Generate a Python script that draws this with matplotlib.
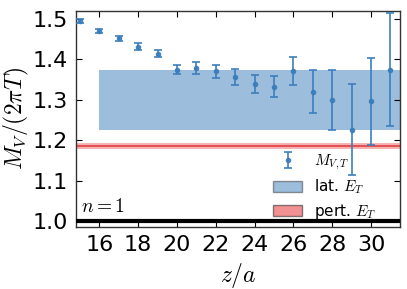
import numpy as np
import matplotlib
matplotlib.use("Agg")
import matplotlib.pyplot as plt
from matplotlib.patches import Patch

plt.rcParams['mathtext.fontset'] = 'cm'
plt.rcParams['font.family'] = ['DejaVu Sans']

z = [15, 16, 17, 18, 19, 20, 21, 22, 23, 24, 25, 26, 27, 28, 29, 30, 31]
m = [1.494, 1.470, 1.452, 1.432, 1.414, 1.375, 1.379, 1.371, 1.356, 1.340,
     1.332, 1.371, 1.320, 1.300, 1.226, 1.296, 1.375]
err = [0.005, 0.005, 0.007, 0.009, 0.009, 0.012, 0.014, 0.016, 0.020, 0.022,
       0.026, 0.035, 0.053, 0.074, 0.113, 0.108, 0.141]

lat_lo, lat_hi = 1.225, 1.374
lat_start = 16
pert_c, pert_err = 1.1845, 0.0075
xticks = [16, 18, 20, 22, 24, 26, 28, 30]
yticks = [1.0, 1.1, 1.2, 1.3, 1.4, 1.5]

fig = plt.figure(figsize=(4.07, 2.89), dpi=100)
ax = fig.add_axes([0.187, 0.2145, 0.796, 0.7475])

xmin, xmax = 14.8, 31.5
blue = '#3a7dbb'
ax.fill_between([lat_start, xmax], lat_lo, lat_hi, color=blue, alpha=0.5, lw=0, zorder=1)
ax.fill_between([xmin, xmax], pert_c - pert_err, pert_c + pert_err, color='#e8484a', alpha=0.4, lw=0, zorder=1)
ax.axhline(pert_c, color='#e0393b', lw=1.5, alpha=0.8, zorder=2)
ax.axhline(1.0, color='black', lw=3, zorder=3)

eb = ax.errorbar(z, m, yerr=err, fmt='o', ms=3, color=blue, ecolor=blue, elinewidth=1.3,
                 capsize=3, capthick=1.3, alpha=0.9, zorder=4)

ax.text(15.05, 1.022, r'$n=1$', fontsize=14)

ax.set_xlim(xmin, xmax)
ax.set_ylim(0.985, 1.52)
ax.set_xticks(xticks)
ax.set_yticks(yticks)
ax.set_yticklabels(['%.1f' % v for v in yticks])
ax.tick_params(direction='in', top=True, right=True, labelsize=16, length=4, width=0.8, pad=6)
for s in ax.spines.values():
    s.set_color('#333333')
    s.set_linewidth(1.0)

ax.set_xlabel(r'$z/a$', fontsize=17, labelpad=4)
ax.set_ylabel(r'$M_V/(2\pi T)$', fontsize=17, labelpad=1)

handles = [eb,
           Patch(facecolor=blue, alpha=0.5, edgecolor='#333333', lw=1),
           Patch(facecolor='#e8484a', alpha=0.6, edgecolor='#333333', lw=1)]
labels = [r'$M_{V,T}$', r'lat. $E_T$', r'pert. $E_T$']
ax.legend(handles, labels, loc='lower right', frameon=False, fontsize=11,
          bbox_to_anchor=(0.925, 0.03), borderpad=0, borderaxespad=0,
          handlelength=1.95, labelspacing=0.35, handletextpad=0.75)

fig.savefig('out.png', dpi=100)
